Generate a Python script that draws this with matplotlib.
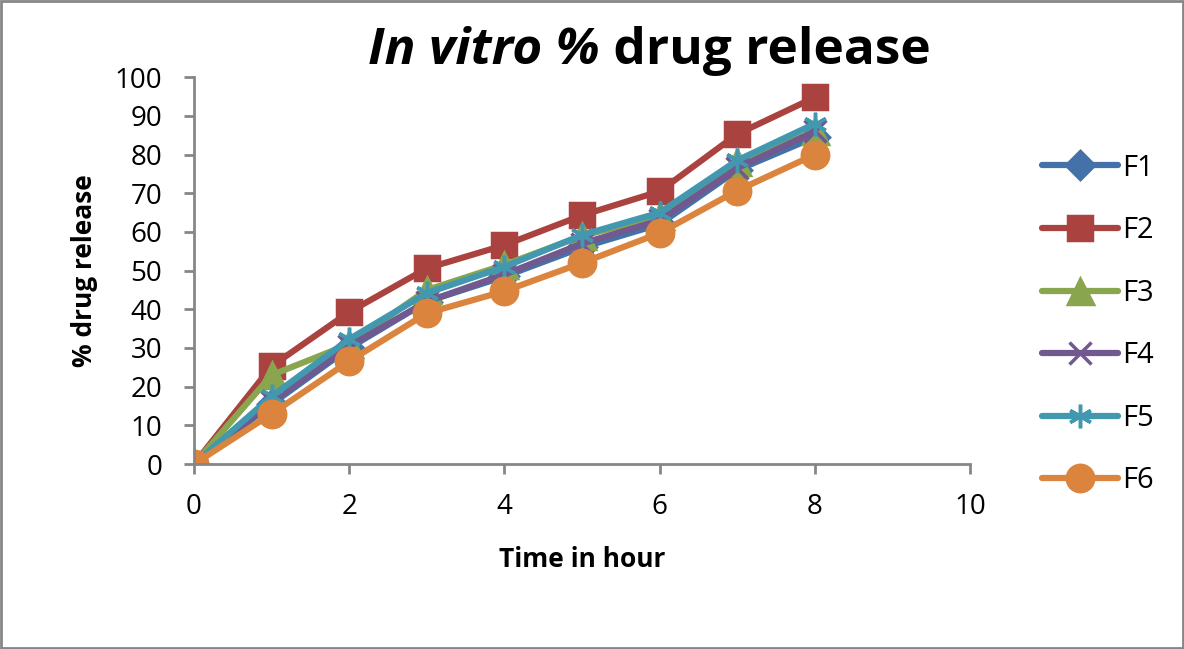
import matplotlib.pyplot as plt
from matplotlib.patches import Rectangle

time_h = [0, 1, 2, 3, 4, 5, 6, 7, 8]
f1 = [0, 15.5, 30.0, 42.0, 48.5, 56.0, 62.0, 76.0, 84.5]
f2 = [0, 25.3, 39.3, 50.6, 56.6, 64.3, 70.5, 85.3, 94.8]
f3 = [0, 23.0, 31.0, 45.0, 51.5, 59.0, 64.0, 78.0, 86.0]
f4 = [0, 16.0, 30.5, 42.0, 49.0, 57.0, 63.0, 76.5, 86.0]
f5 = [0, 17.5, 32.3, 44.2, 51.0, 59.2, 65.0, 78.5, 88.0]
f6 = [0, 13.0, 26.6, 39.0, 44.7, 52.0, 59.7, 70.7, 80.0]

labels = ["F1", "F2", "F3", "F4", "F5", "F6"]
series = [f1, f2, f3, f4, f5, f6]
colors = ["#4472a8", "#aa4240", "#89a54e", "#71588f", "#4198af", "#db843d"]
markers = ["D", "s", "^", "x", (6, 2, 0), "o"]
msizes = [14, 17, 18, 16, 17, 19]

plt.rcParams["font.family"] = ["Open Sans", "DejaVu Sans"]

fig = plt.figure(figsize=(11.84, 6.49), dpi=100)
ax = fig.add_axes([0.1639, 0.285, 0.6554, 0.596])

for lab, ys, c, m, ms in zip(labels, series, colors, markers, msizes):
    ax.plot(time_h, ys, color=c, linewidth=4.5, marker=m, markersize=ms,
            markeredgewidth=2.5, markeredgecolor=c, label=lab,
            solid_capstyle="round", solid_joinstyle="round")

ax.set_xlim(0, 10)
ax.set_ylim(0, 100)
ax.set_xticks(range(0, 11, 2))
ax.set_yticks(range(0, 101, 10))
for s in ["top", "right"]:
    ax.spines[s].set_visible(False)
for s in ["left", "bottom"]:
    ax.spines[s].set_color("#868686")
    ax.spines[s].set_linewidth(2)
ax.tick_params(colors="#868686", width=2, length=7, labelsize=20, labelcolor="black")
ax.tick_params(axis="x", pad=14)
ax.tick_params(axis="y", pad=16)

ax.set_xlabel("Time in hour", fontsize=19, fontweight="bold", labelpad=18)
ax.set_ylabel("% drug release", fontsize=19, fontweight="bold", labelpad=12)

t1 = fig.text(0.311, 0.883, "In vitro %", fontsize=37, fontweight="bold",
              style="italic", ha="left", va="bottom")
ax.annotate(" drug release", xy=(1, 0), xycoords=t1, fontsize=37,
            fontweight="bold", ha="left", va="bottom")

fig.legend(loc="center left", bbox_to_anchor=(0.858, 0.50), frameon=False,
           fontsize=21, labelspacing=1.15, handlelength=2.6, handletextpad=0.15)

fig.patches.append(Rectangle((0.001, 0.001), 0.998, 0.997, transform=fig.transFigure,
                             fill=False, edgecolor="#868686", linewidth=2))

fig.savefig("out.png", dpi=100)
